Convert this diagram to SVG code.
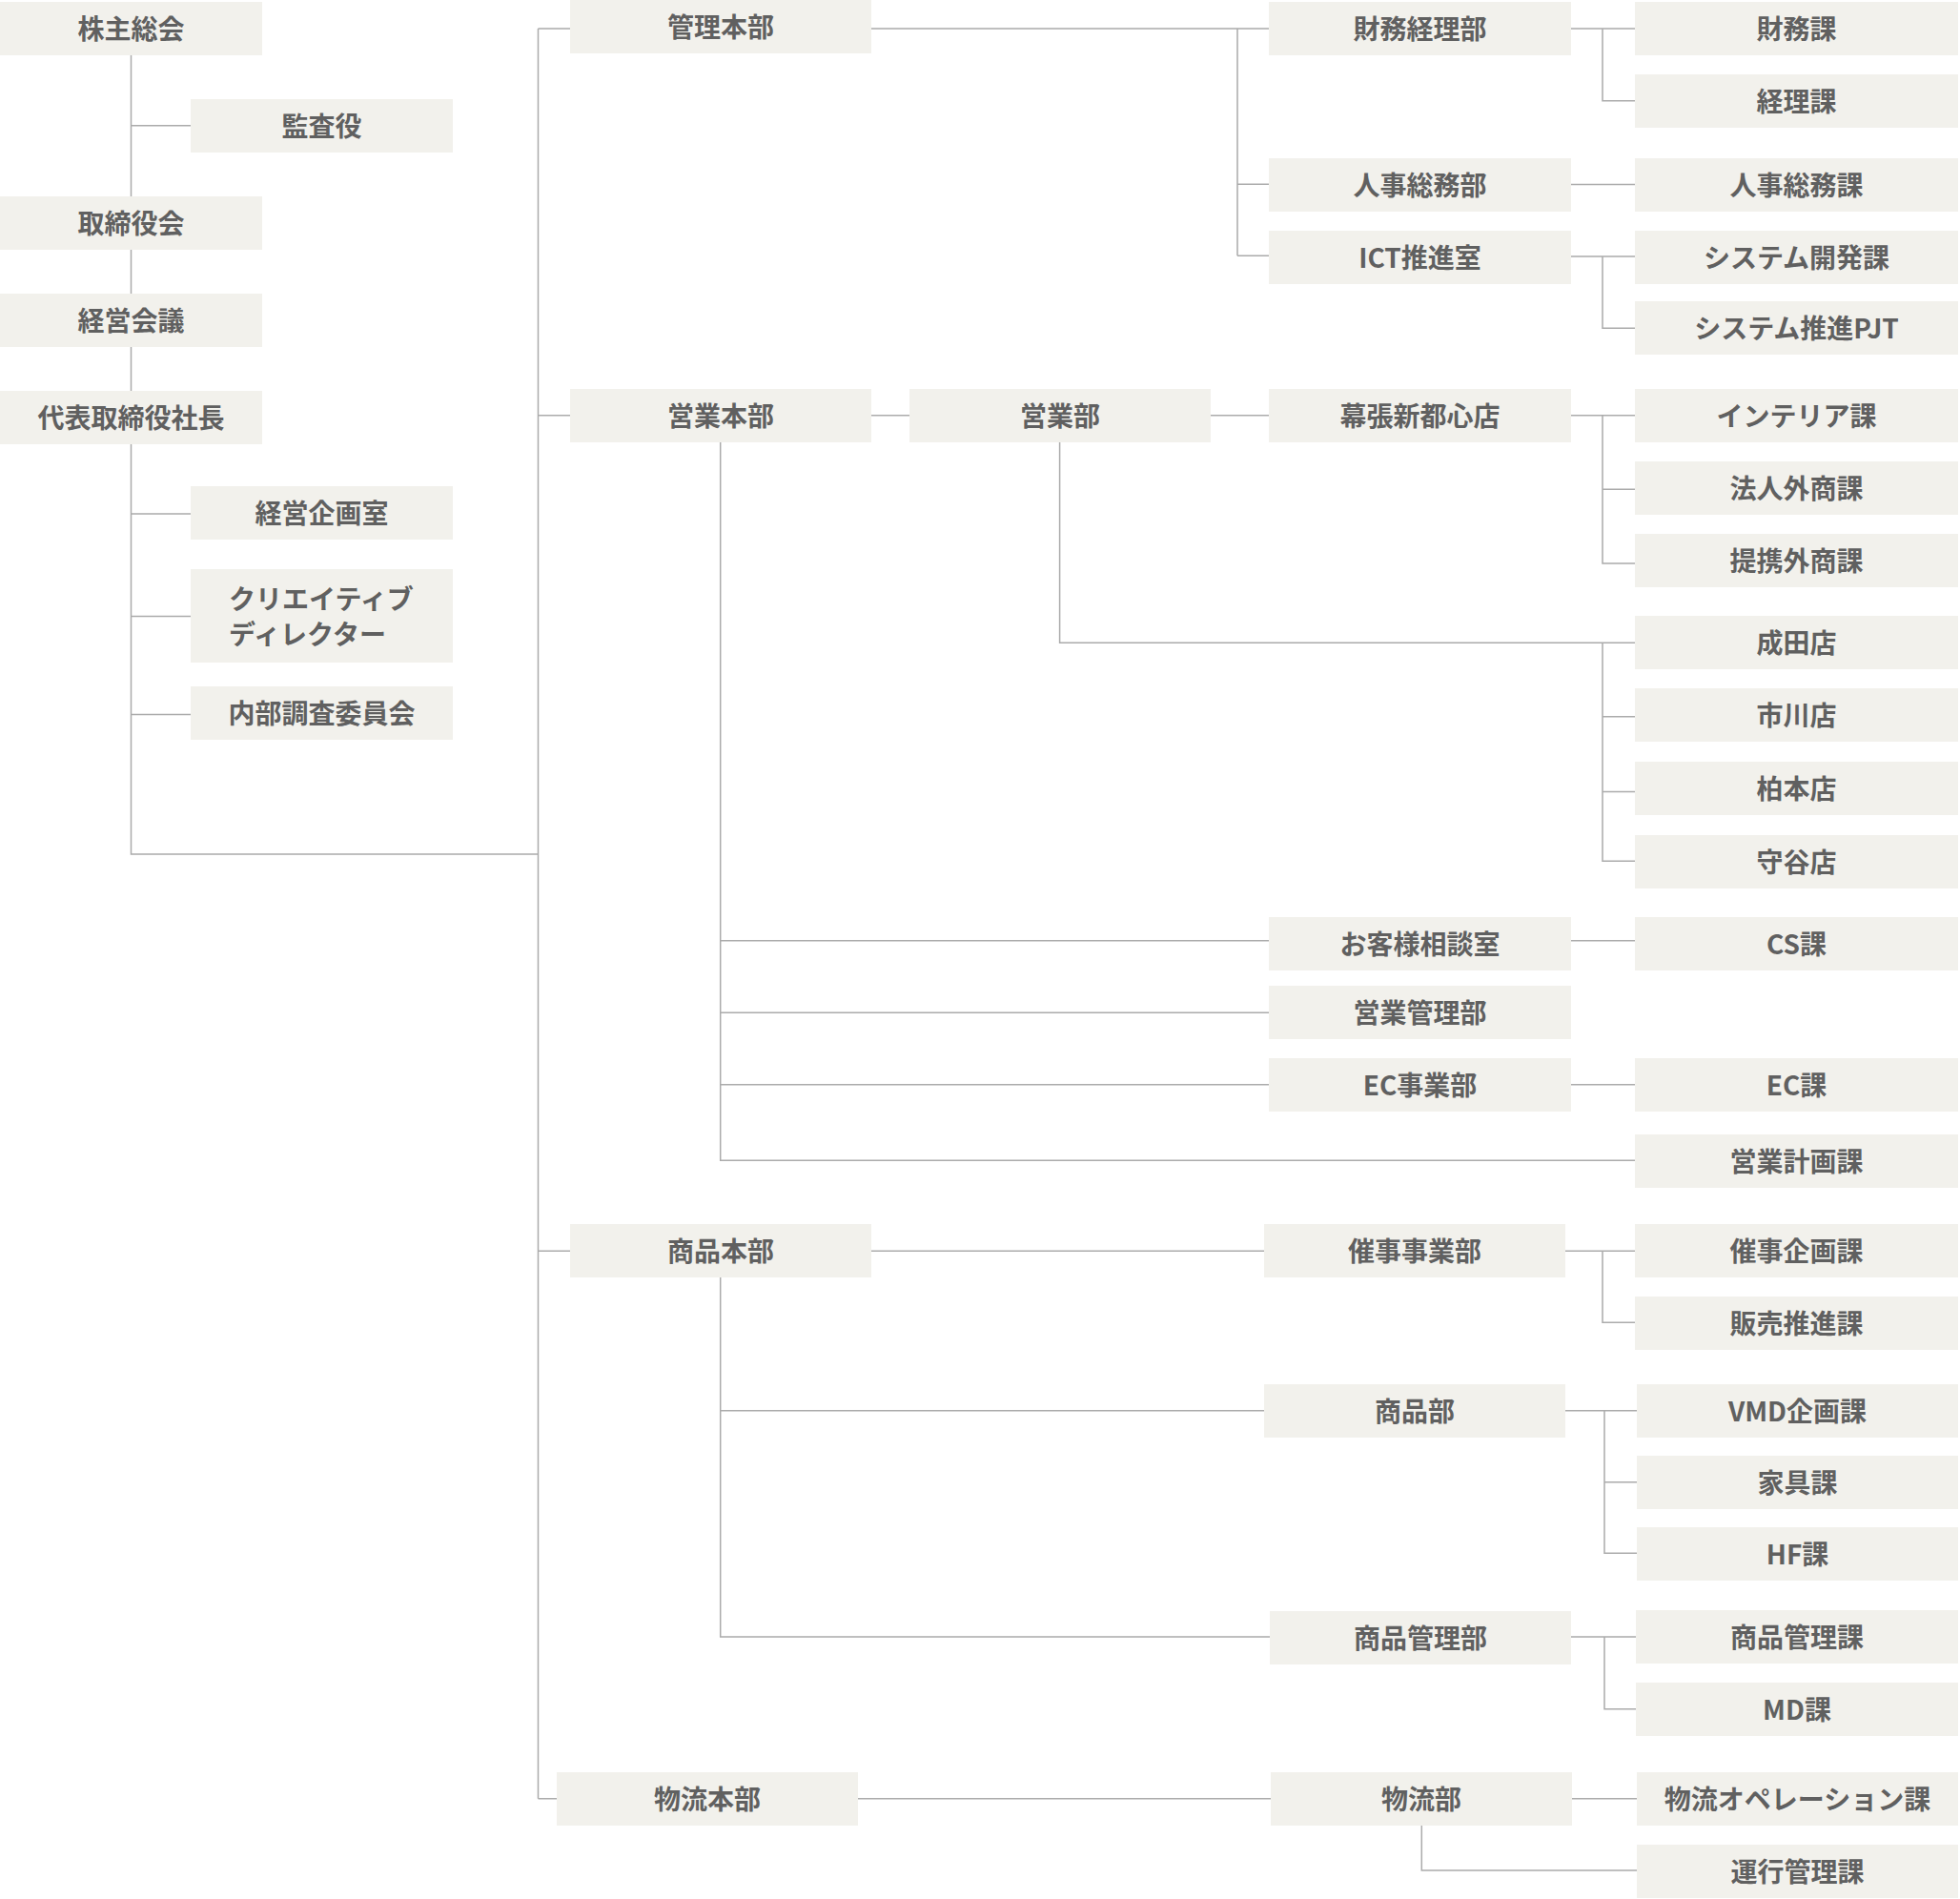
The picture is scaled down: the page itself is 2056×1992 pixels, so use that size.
<svg xmlns="http://www.w3.org/2000/svg" width="2056" height="1992" viewBox="0 0 2056 1992">
<style>
.box{fill:#f2f1ec}
.lbl{font-family:"Noto Sans CJK JP","Noto Sans",sans-serif;font-size:28px;font-weight:700;fill:#606060;text-anchor:middle;dominant-baseline:central;transform:translateY(-1.5px)}
.lbl2{font-family:"Noto Sans CJK JP","Noto Sans",sans-serif;font-size:28px;font-weight:700;fill:#606060;text-anchor:start;dominant-baseline:central;transform:translateY(-1.5px)}
.ln{fill:none;stroke:#ababab;stroke-width:1.5}
</style>
<rect width="2056" height="1992" fill="#ffffff"/>
<g id="connectors">
<path class="ln" d="M137.5 58 V896 H564.5"/>
<path class="ln" d="M137.5 131.7 H200"/>
<path class="ln" d="M137.5 539 H200 M137.5 646.5 H200 M137.5 749.5 H200"/>
<path class="ln" d="M564.5 30 V1886.7"/>
<path class="ln" d="M564.5 30 H598 M564.5 435.7 H598 M564.5 1312.3 H598 M564.5 1886.7 H584"/>
<path class="ln" d="M914 30 H1331 M1298 30 V268.3 M1298 193.3 H1331 M1298 268.3 H1331"/>
<path class="ln" d="M1648 30 H1715 M1681 30 V105.7 H1715"/>
<path class="ln" d="M1648 193.5 H1715"/>
<path class="ln" d="M1648 269 H1715 M1681 269 V344.3 H1715"/>
<path class="ln" d="M914 435.7 H954 M1270 435.7 H1331"/>
<path class="ln" d="M1648 435.7 H1715 M1681 435.7 V591.1 H1715 M1681 513.2 H1715"/>
<path class="ln" d="M1111.6 464 V674.3 H1715 M1681 674.3 V903.2 H1715 M1681 751.8 H1715 M1681 830.4 H1715"/>
<path class="ln" d="M755.7 464 V1217.3 H1715 M755.7 986.7 H1331 M755.7 1062.3 H1331 M755.7 1137.7 H1331"/>
<path class="ln" d="M1648 986.7 H1715 M1648 1137.7 H1715"/>
<path class="ln" d="M914 1312.3 H1326 M1642 1312.3 H1715 M1681 1312.3 V1387.3 H1715"/>
<path class="ln" d="M755.7 1340 V1717 H1332 M755.7 1479.7 H1326"/>
<path class="ln" d="M1642 1479.7 H1717 M1683 1479.7 V1629.3 H1717 M1683 1554.7 H1717"/>
<path class="ln" d="M1648 1717 H1716 M1683 1717 V1792.7 H1716"/>
<path class="ln" d="M900 1886.7 H1333 M1649 1886.7 H1717 M1491.3 1915 V1962 H1717"/>
</g>
<g id="n-shareholders"><rect class="box" x="0" y="2" width="275" height="56"/><text class="lbl" x="137.5" y="30">株主総会</text></g>
<g id="n-auditor"><rect class="box" x="200" y="104" width="275" height="56"/><text class="lbl" x="337.5" y="132">監査役</text></g>
<g id="n-board"><rect class="box" x="0" y="206" width="275" height="56"/><text class="lbl" x="137.5" y="234">取締役会</text></g>
<g id="n-mgmt-meeting"><rect class="box" x="0" y="308" width="275" height="56"/><text class="lbl" x="137.5" y="336">経営会議</text></g>
<g id="n-president"><rect class="box" x="0" y="410" width="275" height="56"/><text class="lbl" x="137.5" y="438">代表取締役社長</text></g>
<g id="n-planning"><rect class="box" x="200" y="510" width="275" height="56"/><text class="lbl" x="337.5" y="538">経営企画室</text></g>
<g id="n-creative"><rect class="box" x="200" y="597" width="275" height="98"/><text class="lbl2" x="240" y="628">クリエイティブ</text><text class="lbl2" x="240" y="665">ディレクター</text></g>
<g id="n-audit-committee"><rect class="box" x="200" y="720" width="275" height="56"/><text class="lbl" x="337.5" y="748">内部調査委員会</text></g>
<g id="n-admin-hq"><rect class="box" x="598" y="0" width="316" height="56"/><text class="lbl" x="756" y="28">管理本部</text></g>
<g id="n-sales-hq"><rect class="box" x="598" y="408" width="316" height="56"/><text class="lbl" x="756" y="436">営業本部</text></g>
<g id="n-sales-dept"><rect class="box" x="954" y="408" width="316" height="56"/><text class="lbl" x="1112" y="436">営業部</text></g>
<g id="n-merch-hq"><rect class="box" x="598" y="1284" width="316" height="56"/><text class="lbl" x="756" y="1312">商品本部</text></g>
<g id="n-logistics-hq"><rect class="box" x="584" y="1859" width="316" height="56"/><text class="lbl" x="742" y="1887">物流本部</text></g>
<g id="n-finance-dept"><rect class="box" x="1331" y="2" width="317" height="56"/><text class="lbl" x="1489.5" y="30">財務経理部</text></g>
<g id="n-hr-dept"><rect class="box" x="1331" y="166" width="317" height="56"/><text class="lbl" x="1489.5" y="194">人事総務部</text></g>
<g id="n-ict"><rect class="box" x="1331" y="242" width="317" height="56"/><text class="lbl" x="1489.5" y="270">ICT推進室</text></g>
<g id="n-makuhari"><rect class="box" x="1331" y="408" width="317" height="56"/><text class="lbl" x="1489.5" y="436">幕張新都心店</text></g>
<g id="n-customer"><rect class="box" x="1331" y="962" width="317" height="56"/><text class="lbl" x="1489.5" y="990">お客様相談室</text></g>
<g id="n-sales-admin"><rect class="box" x="1331" y="1034" width="317" height="56"/><text class="lbl" x="1489.5" y="1062">営業管理部</text></g>
<g id="n-ec-dept"><rect class="box" x="1331" y="1110" width="317" height="56"/><text class="lbl" x="1489.5" y="1138">EC事業部</text></g>
<g id="n-events-dept"><rect class="box" x="1326" y="1284" width="316" height="56"/><text class="lbl" x="1484" y="1312">催事事業部</text></g>
<g id="n-merch-dept"><rect class="box" x="1326" y="1452" width="316" height="56"/><text class="lbl" x="1484" y="1480">商品部</text></g>
<g id="n-merch-admin"><rect class="box" x="1332" y="1690" width="316" height="56"/><text class="lbl" x="1490" y="1718">商品管理部</text></g>
<g id="n-logistics-dept"><rect class="box" x="1333" y="1859" width="316" height="56"/><text class="lbl" x="1491" y="1887">物流部</text></g>
<g id="n-finance-sec"><rect class="box" x="1715" y="2" width="339" height="56"/><text class="lbl" x="1884.5" y="30">財務課</text></g>
<g id="n-accounting-sec"><rect class="box" x="1715" y="78" width="339" height="56"/><text class="lbl" x="1884.5" y="106">経理課</text></g>
<g id="n-hr-sec"><rect class="box" x="1715" y="166" width="339" height="56"/><text class="lbl" x="1884.5" y="194">人事総務課</text></g>
<g id="n-sysdev"><rect class="box" x="1715" y="242" width="339" height="56"/><text class="lbl" x="1884.5" y="270">システム開発課</text></g>
<g id="n-syspjt"><rect class="box" x="1715" y="316" width="339" height="56"/><text class="lbl" x="1884.5" y="344">システム推進PJT</text></g>
<g id="n-interior"><rect class="box" x="1715" y="408" width="339" height="56"/><text class="lbl" x="1884.5" y="436">インテリア課</text></g>
<g id="n-corp-sales"><rect class="box" x="1715" y="484" width="339" height="56"/><text class="lbl" x="1884.5" y="512">法人外商課</text></g>
<g id="n-partner-sales"><rect class="box" x="1715" y="560" width="339" height="56"/><text class="lbl" x="1884.5" y="588">提携外商課</text></g>
<g id="n-narita"><rect class="box" x="1715" y="646" width="339" height="56"/><text class="lbl" x="1884.5" y="674">成田店</text></g>
<g id="n-ichikawa"><rect class="box" x="1715" y="722" width="339" height="56"/><text class="lbl" x="1884.5" y="750">市川店</text></g>
<g id="n-kashiwa"><rect class="box" x="1715" y="799" width="339" height="56"/><text class="lbl" x="1884.5" y="827">柏本店</text></g>
<g id="n-moriya"><rect class="box" x="1715" y="876" width="339" height="56"/><text class="lbl" x="1884.5" y="904">守谷店</text></g>
<g id="n-cs"><rect class="box" x="1715" y="962" width="339" height="56"/><text class="lbl" x="1884.5" y="990">CS課</text></g>
<g id="n-ec-sec"><rect class="box" x="1715" y="1110" width="339" height="56"/><text class="lbl" x="1884.5" y="1138">EC課</text></g>
<g id="n-sales-plan"><rect class="box" x="1715" y="1190" width="339" height="56"/><text class="lbl" x="1884.5" y="1218">営業計画課</text></g>
<g id="n-event-plan"><rect class="box" x="1715" y="1284" width="339" height="56"/><text class="lbl" x="1884.5" y="1312">催事企画課</text></g>
<g id="n-sales-promo"><rect class="box" x="1715" y="1360" width="339" height="56"/><text class="lbl" x="1884.5" y="1388">販売推進課</text></g>
<g id="n-vmd"><rect class="box" x="1717" y="1452" width="337" height="56"/><text class="lbl" x="1885.5" y="1480">VMD企画課</text></g>
<g id="n-furniture"><rect class="box" x="1717" y="1527" width="337" height="56"/><text class="lbl" x="1885.5" y="1555">家具課</text></g>
<g id="n-hf"><rect class="box" x="1717" y="1602" width="337" height="56"/><text class="lbl" x="1885.5" y="1630">HF課</text></g>
<g id="n-merch-admin-sec"><rect class="box" x="1716" y="1689" width="338" height="56"/><text class="lbl" x="1885" y="1717">商品管理課</text></g>
<g id="n-md"><rect class="box" x="1716" y="1765" width="338" height="56"/><text class="lbl" x="1885" y="1793">MD課</text></g>
<g id="n-logi-op"><rect class="box" x="1717" y="1859" width="337" height="56"/><text class="lbl" x="1885.5" y="1887">物流オペレーション課</text></g>
<g id="n-operation"><rect class="box" x="1717" y="1935" width="337" height="56"/><text class="lbl" x="1885.5" y="1963">運行管理課</text></g>
</svg>
